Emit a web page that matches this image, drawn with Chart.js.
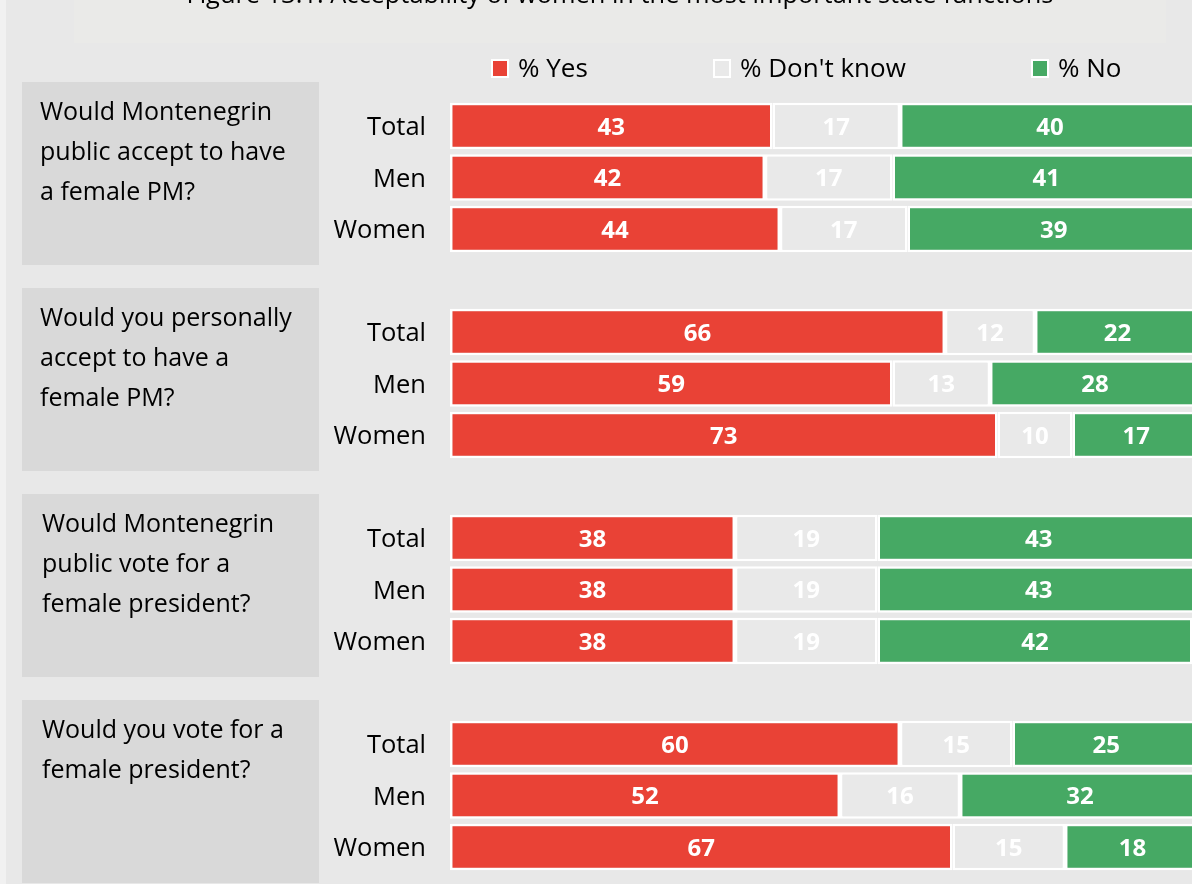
<!DOCTYPE html>
<html>
<head>
<meta charset="utf-8">
<script src="https://cdn.jsdelivr.net/npm/chart.js@4.4.1/dist/chart.umd.min.js"></script>
<style>
  html, body { margin: 0; padding: 0; overflow: hidden; background: #f1f1f1; }
  #wrap { position: absolute; left: 0; top: 0; width: 1200px; height: 884px; }
</style>
</head>
<body>
<div id="wrap"><canvas id="chart" width="1200" height="884"></canvas></div>
<script>
// Survey questions (one block of three bars each)
const questions = [
  ['Would Montenegrin', 'public accept to have', 'a female PM?'],
  ['Would you personally', 'accept to have a', 'female PM?'],
  ['Would Montenegrin', 'public vote for a', 'female president?'],
  ['Would you vote for a', 'female president?']
];
const groups = ['Total', 'Men', 'Women'];
const seriesNames = ['% Yes', "% Don't know", '% No'];
const seriesColors = ['#e94236', '#e9e9e9', '#46a964'];

// Percentages, per question: Total, Men, Women
const yesValues = [43, 42, 44,  66, 59, 73,  38, 38, 38,  60, 52, 67];
const dkValues  = [17, 17, 17,  12, 13, 10,  19, 19, 19,  15, 16, 15];
const noValues  = [40, 41, 39,  22, 28, 17,  43, 43, 42,  25, 32, 18];

const titleText = 'Figure 13.1: Acceptability of women in the most important state functions';
const FONT = '"Open Sans", "Liberation Sans", sans-serif';

// Build category rows with an empty spacer row between question blocks
const labels = [];
const groupStart = [];
const spread = (vals) => {
  const out = [];
  questions.forEach((q, qi) => {
    groups.forEach((g, gi) => out.push(vals[qi * groups.length + gi]));
    if (qi < questions.length - 1) out.push(null);
  });
  return out;
};
questions.forEach((q, qi) => {
  groupStart.push(labels.length);
  groups.forEach(g => labels.push(g));
  if (qi < questions.length - 1) labels.push('');
});

const valueSets = [yesValues, dkValues, noValues];
const datasets = seriesNames.map((name, i) => ({
  label: name,
  data: spread(valueSets[i]),
  backgroundColor: seriesColors[i],
  borderColor: '#ffffff',
  borderWidth: 2.5,
  borderSkipped: false,
  barPercentage: 0.9,
  categoryPercentage: 1.0
}));

// Background, title, legend and question panels
const decorPlugin = {
  id: 'decor',
  beforeDraw(chart) {
    const ctx = chart.ctx;
    const yScale = chart.scales.y;
    ctx.save();
    ctx.fillStyle = '#e8e8e8';
    ctx.fillRect(6, 0, chart.width - 6, chart.height);
    ctx.fillStyle = '#eaeae8';
    ctx.fillRect(74, 0, 1092, 43);

    // title (top part runs above the canvas)
    ctx.fillStyle = '#000';
    ctx.font = '25.4px ' + FONT;
    ctx.textAlign = 'center';
    ctx.textBaseline = 'alphabetic';
    ctx.fillText(titleText, 620, 3);

    // legend
    const legendX = [493, 715, 1033];
    chart.data.datasets.forEach((ds, i) => {
      const x = legendX[i];
      ctx.fillStyle = '#ffffff';
      ctx.fillRect(x - 2, 59, 18, 19);
      ctx.fillStyle = ds.backgroundColor;
      ctx.fillRect(x, 61, 14, 15);
      ctx.fillStyle = '#000';
      ctx.textAlign = 'left';
      ctx.textBaseline = 'middle';
      ctx.font = '26px ' + FONT;
      ctx.fillText(ds.label, x + 25, 70);
    });

    // question panels
    questions.forEach((lines, qi) => {
      const mid = yScale.getPixelForValue(groupStart[qi] + 1);
      const top = mid - 95.5;
      ctx.fillStyle = '#d9d9d9';
      ctx.fillRect(22, top, 297, 183);
      ctx.fillStyle = '#000';
      ctx.textAlign = 'left';
      ctx.textBaseline = 'middle';
      ctx.font = '25px ' + FONT;
      const tx = qi >= 2 ? 42 : 40;
      lines.forEach((ln, li) => ctx.fillText(ln, tx, top + 31 + li * 40));
    });
    ctx.restore();
  }
};

// Value labels centred in each segment
const valueLabelPlugin = {
  id: 'valueLabels',
  afterDatasetsDraw(chart) {
    const ctx = chart.ctx;
    ctx.save();
    ctx.fillStyle = '#ffffff';
    ctx.font = 'bold 24px ' + FONT;
    ctx.textAlign = 'center';
    ctx.textBaseline = 'middle';
    chart.data.datasets.forEach((ds, di) => {
      const meta = chart.getDatasetMeta(di);
      meta.data.forEach((el, idx) => {
        const v = ds.data[idx];
        if (v === null || v === undefined) return;
        ctx.fillText(String(v), (el.x + el.base) / 2, el.y + 2);
      });
    });
    ctx.restore();
  }
};

new Chart(document.getElementById('chart'), {
  type: 'bar',
  data: { labels, datasets },
  options: {
    indexAxis: 'y',
    responsive: false,
    animation: false,
    layout: { padding: { top: 100.25, bottom: 11.25, left: 0, right: 0 } },
    plugins: { legend: { display: false }, tooltip: { enabled: false }, title: { display: false } },
    scales: {
      x: { stacked: true, min: 0, max: 100, display: false },
      y: {
        stacked: true,
        grid: { display: false, drawTicks: false, tickLength: 0 },
        border: { display: false },
        ticks: { color: '#000', font: { family: FONT, size: 25.5 }, padding: 24, labelOffset: 2, autoSkip: false },
        afterFit(scale) {
          scale.width = 450;
          scale.paddingTop = 0;
          scale.paddingBottom = 0;
        }
      }
    }
  },
  plugins: [decorPlugin, valueLabelPlugin]
});
</script>
</body>
</html>
